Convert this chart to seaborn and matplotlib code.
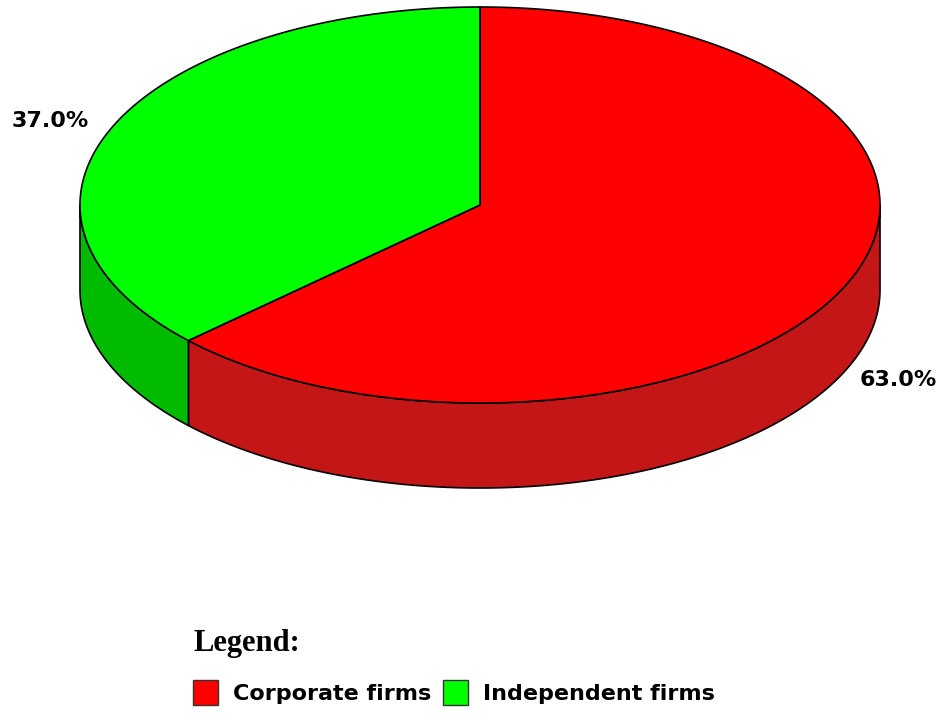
import numpy as np
import matplotlib
matplotlib.use("Agg")
import matplotlib.pyplot as plt
import seaborn as sns
from matplotlib.patches import Polygon, Rectangle

sns.set_theme(style="white")

categories = ["Corporate firms", "Independent firms"]
values = [63.0, 37.0]
top_colors = ["#FF0000", "#00FF00"]
side_colors = ["#C41616", "#00BB00"]

W, H = 945, 717
fig = plt.figure(figsize=(W / 100, H / 100), dpi=100)
ax = fig.add_axes([0, 0, 1, 1])
ax.set_xlim(0, W)
ax.set_ylim(H, 0)
ax.axis("off")

cx, cy, a, b, depth = 480, 205, 400, 198, 85


def pt(theta_deg, dy=0.0):
    t = np.radians(theta_deg)
    return cx + a * np.cos(t), cy - b * np.sin(t) + dy


total = sum(values)
spans = [v / total * 360 for v in values]
ranges = [(90 - spans[0], 90), (90, 90 + spans[1])]

# side walls (front half: angles 180..360)
for (t0, t1), sc in zip(ranges, side_colors):
    segs = []
    for shift in (-360, 0, 360):
        lo, hi = max(t0 + shift, 180), min(t1 + shift, 360)
        if hi > lo:
            segs.append((lo, hi))
    for lo, hi in segs:
        th = np.linspace(lo, hi, 200)
        top = [pt(t) for t in th]
        bot = [pt(t, depth) for t in th[::-1]]
        ax.add_patch(Polygon(top + bot, closed=True, facecolor=sc,
                             edgecolor="black", linewidth=1.2, zorder=1))

# top faces
for (t0, t1), tc in zip(ranges, top_colors):
    th = np.linspace(t0, t1, 400)
    poly = [(cx, cy)] + [pt(t) for t in th]
    ax.add_patch(Polygon(poly, closed=True, facecolor=tc,
                         edgecolor="black", linewidth=1.2, zorder=2))

# percentage labels
for (t0, t1), v in zip(ranges, values):
    m = (t0 + t1) / 2
    s = np.sin(np.radians(m))
    k = 1.14 if s < 0 else 1.17
    x = cx + k * a * np.cos(np.radians(m))
    y = cy - k * b * s
    y += depth if s < 0 else 8
    ax.text(x, y, f"{v:.1f}%", ha="center", va="center",
            fontsize=16, fontweight="bold", family="DejaVu Sans",
            color="black", zorder=3)

# legend
ax.text(193, 643, "Legend:", ha="left", va="center", fontsize=22,
        fontweight="bold", family="Liberation Serif", color="black")
lx = [193, 443]
for x0, cat, tc in zip(lx, categories, top_colors):
    ax.add_patch(Rectangle((x0, 680), 25, 25, facecolor=tc,
                           edgecolor="#333333", linewidth=1.0))
    ax.text(x0 + 40, 694, cat, ha="left", va="center", fontsize=16,
            family="DejaVu Sans", fontweight="bold", color="black")

fig.savefig("out.png", dpi=100, facecolor="white")
